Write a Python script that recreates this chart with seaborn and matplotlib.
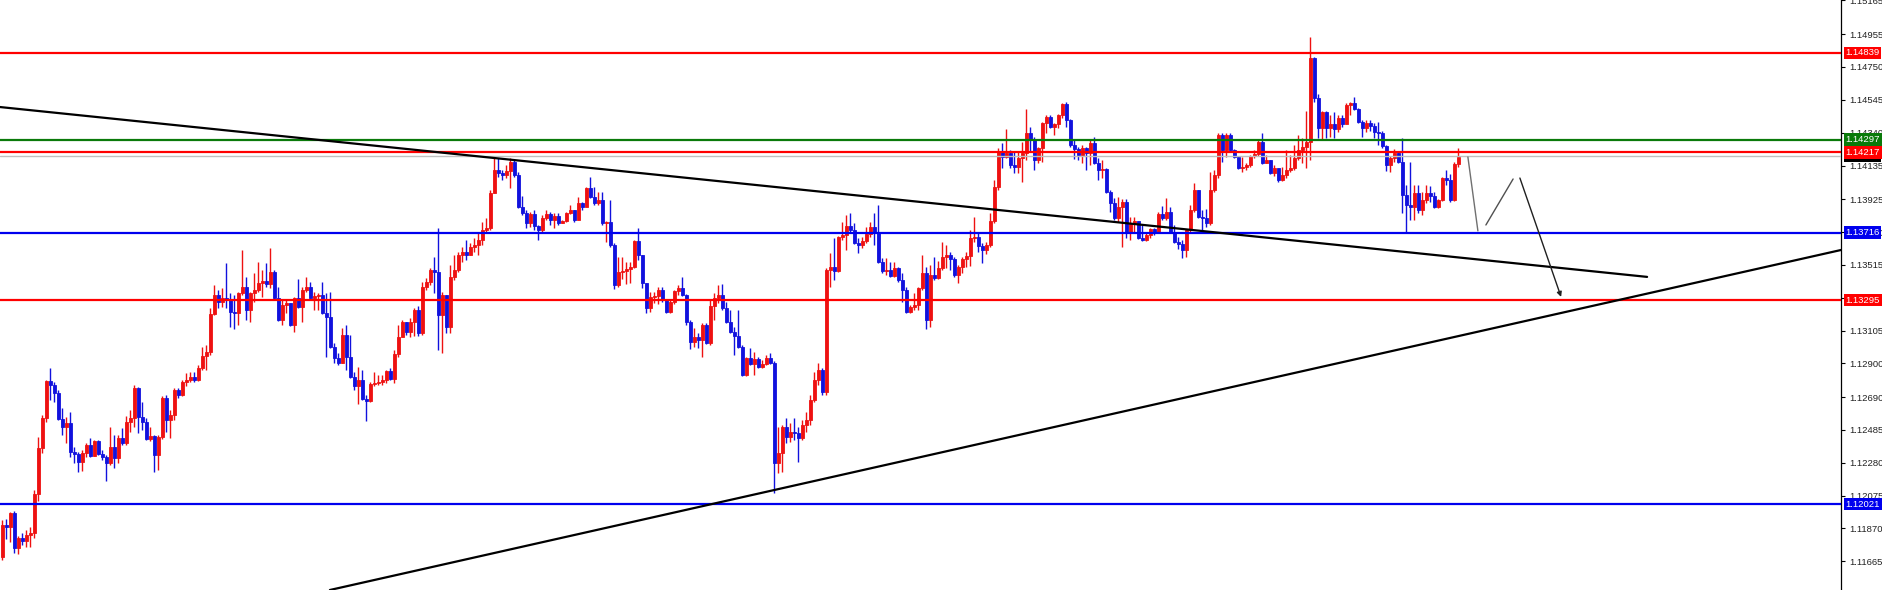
import numpy as np
import pandas as pd
import seaborn as sns
import matplotlib.pyplot as plt


### data ---------------------------------------------------------------------
# EURUSD-style candles (one bar every ~4 px)

first_open = 1.11692

close_px = [
    1.11892, 1.11879, 1.11967, 1.11748, 1.11811, 1.11792, 1.11830, 1.11842, 1.12085, 1.12372,
    1.12560, 1.12791, 1.12766, 1.12715, 1.12554, 1.12503, 1.12528, 1.12348, 1.12335, 1.12286,
    1.12341, 1.12391, 1.12323, 1.12416, 1.12335, 1.12316, 1.12279, 1.12378, 1.12310, 1.12435,
    1.12403, 1.12535, 1.12560, 1.12747, 1.12566, 1.12535, 1.12429, 1.12448, 1.12329, 1.12441,
    1.12684, 1.12547, 1.12579, 1.12734, 1.12703, 1.12785, 1.12797, 1.12815, 1.12797, 1.12872,
    1.12947, 1.12972, 1.13209, 1.13327, 1.13284, 1.13308, 1.13296, 1.13222, 1.13215, 1.13339,
    1.13377, 1.13234, 1.13339, 1.13358, 1.13402, 1.13415, 1.13396, 1.13471, 1.13308, 1.13171,
    1.13265, 1.13277, 1.13140, 1.13308, 1.13252, 1.13358, 1.13377, 1.13308, 1.13321, 1.13327,
    1.13215, 1.13190, 1.13002, 1.12934, 1.12903, 1.13078, 1.12940, 1.12815, 1.12760, 1.12797,
    1.12678, 1.12666, 1.12772, 1.12778, 1.12785, 1.12797, 1.12853, 1.12803, 1.12959, 1.13065,
    1.13159, 1.13097, 1.13159, 1.13234, 1.13090, 1.13377, 1.13409, 1.13483, 1.13471, 1.13203,
    1.13327, 1.13127, 1.13439, 1.13483, 1.13577, 1.13596, 1.13577, 1.13626, 1.13639, 1.13670,
    1.13733, 1.13745, 1.13963, 1.14107, 1.14088, 1.14076, 1.14101, 1.14157, 1.14076, 1.13876,
    1.13839, 1.13776, 1.13833, 1.13758, 1.13733, 1.13808, 1.13833, 1.13795, 1.13820, 1.13776,
    1.13789, 1.13839, 1.13858, 1.13795, 1.13901, 1.13876, 1.13995, 1.13938, 1.13901, 1.13920,
    1.13776, 1.13783, 1.13639, 1.13390, 1.13471, 1.13477, 1.13490, 1.13502, 1.13664, 1.13577,
    1.13402, 1.13246, 1.13314, 1.13321, 1.13358, 1.13296, 1.13222, 1.13284, 1.13352, 1.13371,
    1.13327, 1.13159, 1.13034, 1.13065, 1.13046, 1.13140, 1.13027, 1.13259, 1.13308, 1.13327,
    1.13246, 1.13159, 1.13097, 1.13071, 1.13002, 1.12828, 1.12934, 1.12897, 1.12928, 1.12878,
    1.12897, 1.12934, 1.12903, 1.12279, 1.12341, 1.12503, 1.12441, 1.12473, 1.12466, 1.12435,
    1.12516, 1.12547, 1.12672, 1.12797, 1.12859, 1.12722, 1.13483, 1.13502, 1.13477, 1.13689,
    1.13702, 1.13758, 1.13733, 1.13651, 1.13639, 1.13664, 1.13708, 1.13751, 1.13714, 1.13534,
    1.13477, 1.13483, 1.13446, 1.13496, 1.13421, 1.13358, 1.13222, 1.13252, 1.13265, 1.13371,
    1.13464, 1.13171, 1.13452, 1.13433, 1.13496, 1.13564, 1.13577, 1.13552, 1.13452, 1.13502,
    1.13552, 1.13571, 1.13683, 1.13689, 1.13633, 1.13608, 1.13639, 1.13789, 1.14001, 1.14219,
    1.14188, 1.14213, 1.14139, 1.14126, 1.14182, 1.14213, 1.14338, 1.14294, 1.14170, 1.14244,
    1.14400, 1.14438, 1.14375, 1.14394, 1.14450, 1.14519, 1.14419, 1.14263, 1.14238, 1.14201,
    1.14244, 1.14213, 1.14275, 1.14151, 1.14107, 1.14113, 1.13970, 1.13901, 1.13808, 1.13876,
    1.13908, 1.13720, 1.13776, 1.13789, 1.13683, 1.13670, 1.13702, 1.13739, 1.13714, 1.13833,
    1.13808, 1.13846, 1.13720, 1.13658, 1.13645, 1.13608, 1.13733, 1.13858, 1.13982, 1.13814,
    1.13808, 1.13776, 1.13982, 1.14076, 1.14326, 1.14232, 1.14326, 1.14232, 1.14188, 1.14120,
    1.14126, 1.14139, 1.14195, 1.14207, 1.14282, 1.14151, 1.14170, 1.14088, 1.14120, 1.14045,
    1.14076, 1.14107, 1.14120, 1.14182, 1.14232, 1.14250, 1.14282, 1.14806, 1.14556, 1.14369,
    1.14469, 1.14369, 1.14394, 1.14363, 1.14432, 1.14394, 1.14513, 1.14526, 1.14488, 1.14407,
    1.14369, 1.14400, 1.14382, 1.14344, 1.14338, 1.14257, 1.14139, 1.14182, 1.14213, 1.14157,
    1.13951, 1.13889, 1.13876, 1.13963, 1.13858, 1.13920, 1.13963, 1.13945, 1.13876, 1.13920,
    1.14057, 1.14045, 1.13920, 1.14145, 1.14188,
]

high_px = [
    1.11923, 1.11930, 1.11974, 1.11980, 1.11824, 1.11842, 1.11861, 1.11879, 1.12110, 1.12441,
    1.12579, 1.12797, 1.12872, 1.12785, 1.12734, 1.12622, 1.12566, 1.12598, 1.12378, 1.12348,
    1.12360, 1.12403, 1.12435, 1.12422, 1.12422, 1.12360, 1.12329, 1.12503, 1.12454, 1.12454,
    1.12497, 1.12573, 1.12610, 1.12766, 1.12753, 1.12660, 1.12560, 1.12503, 1.12454, 1.12454,
    1.12697, 1.12703, 1.12610, 1.12747, 1.12747, 1.12797, 1.12840, 1.12847, 1.12847, 1.12891,
    1.13002, 1.13015, 1.13246, 1.13390, 1.13358, 1.13371, 1.13527, 1.13339, 1.13327, 1.13346,
    1.13608, 1.13439, 1.13346, 1.13464, 1.13534, 1.13483, 1.13527, 1.13620, 1.13483, 1.13377,
    1.13296, 1.13296, 1.13277, 1.13314, 1.13427, 1.13377, 1.13439, 1.13409, 1.13346, 1.13339,
    1.13409, 1.13339, 1.13346, 1.13027, 1.12965, 1.13121, 1.13140, 1.13078, 1.12847, 1.12878,
    1.12859, 1.12703, 1.12785, 1.12847, 1.12828, 1.12828, 1.12859, 1.12872, 1.12984, 1.13140,
    1.13171, 1.13159, 1.13184, 1.13246, 1.13259, 1.13409, 1.13433, 1.13496, 1.13564, 1.13745,
    1.13346, 1.13327, 1.13515, 1.13577, 1.13596, 1.13626, 1.13670, 1.13651, 1.13683, 1.13721,
    1.13783, 1.13808, 1.13982, 1.14182, 1.14182, 1.14107, 1.14139, 1.14182, 1.14170, 1.14094,
    1.13945, 1.13858, 1.13846, 1.13858, 1.13764, 1.13827, 1.13858, 1.13846, 1.13839, 1.13839,
    1.13795, 1.13846, 1.13889, 1.13858, 1.13938, 1.13908, 1.14001, 1.14063, 1.14001, 1.13970,
    1.13970, 1.13789, 1.13920, 1.13651, 1.13564, 1.13564, 1.13534, 1.13534, 1.13670, 1.13745,
    1.13577, 1.13402, 1.13346, 1.13346, 1.13377, 1.13377, 1.13296, 1.13296, 1.13358, 1.13390,
    1.13439, 1.13333, 1.13171, 1.13121, 1.13090, 1.13152, 1.13152, 1.13296, 1.13339, 1.13390,
    1.13396, 1.13284, 1.13234, 1.13127, 1.13234, 1.13015, 1.12940, 1.12996, 1.12972, 1.12940,
    1.12922, 1.12953, 1.12965, 1.12916, 1.12503, 1.12516, 1.12560, 1.12528, 1.12560, 1.12503,
    1.12547, 1.12598, 1.12703, 1.12847, 1.12903, 1.12872, 1.13496, 1.13589, 1.13683, 1.13695,
    1.13783, 1.13827, 1.13839, 1.13776, 1.13683, 1.13689, 1.13751, 1.13783, 1.13839, 1.13889,
    1.13558, 1.13558, 1.13534, 1.13534, 1.13502, 1.13464, 1.13377, 1.13265, 1.13339, 1.13377,
    1.13577, 1.13502, 1.13515, 1.13564, 1.13540, 1.13658, 1.13639, 1.13596, 1.13564, 1.13515,
    1.13564, 1.13596, 1.13733, 1.13814, 1.13720, 1.13651, 1.13658, 1.13839, 1.14045, 1.14244,
    1.14275, 1.14363, 1.14232, 1.14219, 1.14219, 1.14282, 1.14488, 1.14375, 1.14313, 1.14250,
    1.14407, 1.14450, 1.14450, 1.14400, 1.14457, 1.14526, 1.14532, 1.14425, 1.14294, 1.14250,
    1.14263, 1.14250, 1.14294, 1.14313, 1.14182, 1.14170, 1.14120, 1.13982, 1.13932, 1.13938,
    1.13926, 1.13926, 1.13814, 1.13814, 1.13776, 1.13764, 1.13714, 1.13745, 1.13745, 1.13846,
    1.13883, 1.13932, 1.13876, 1.13764, 1.13689, 1.13670, 1.13739, 1.13889, 1.14026, 1.13982,
    1.13858, 1.13864, 1.14094, 1.14107, 1.14338, 1.14338, 1.14338, 1.14338, 1.14238, 1.14195,
    1.14188, 1.14151, 1.14201, 1.14232, 1.14294, 1.14338, 1.14201, 1.14170, 1.14139, 1.14107,
    1.14126, 1.14232, 1.14201, 1.14263, 1.14326, 1.14306, 1.14475, 1.14937, 1.14812, 1.14581,
    1.14475, 1.14475, 1.14450, 1.14469, 1.14450, 1.14450, 1.14526, 1.14532, 1.14563, 1.14494,
    1.14419, 1.14419, 1.14419, 1.14400, 1.14407, 1.14350, 1.14263, 1.14195, 1.14238, 1.14219,
    1.14306, 1.14013, 1.14157, 1.14013, 1.14013, 1.13970, 1.14013, 1.14007, 1.13970, 1.13926,
    1.14063, 1.14107, 1.14082, 1.14157, 1.14244,
]

low_px = [
    1.11674, 1.11805, 1.11786, 1.11717, 1.11711, 1.11767, 1.11754, 1.11754, 1.11811, 1.12042,
    1.12341, 1.12535, 1.12672, 1.12660, 1.12547, 1.12454, 1.12403, 1.12316, 1.12279, 1.12223,
    1.12229, 1.12316, 1.12316, 1.12323, 1.12329, 1.12298, 1.12167, 1.12267, 1.12248, 1.12279,
    1.12391, 1.12391, 1.12473, 1.12503, 1.12466, 1.12485, 1.12422, 1.12416, 1.12223, 1.12235,
    1.12429, 1.12473, 1.12435, 1.12547, 1.12684, 1.12697, 1.12760, 1.12785, 1.12785, 1.12791,
    1.12859, 1.12859, 1.12953, 1.13203, 1.13246, 1.13252, 1.13246, 1.13127, 1.13115, 1.13140,
    1.13327, 1.13171, 1.13159, 1.13284, 1.13346, 1.13314, 1.13377, 1.13371, 1.13296, 1.13165,
    1.13140, 1.13215, 1.13134, 1.13097, 1.13246, 1.13159, 1.13346, 1.13296, 1.13234, 1.13234,
    1.13209, 1.12940, 1.12996, 1.12903, 1.12891, 1.12903, 1.12859, 1.12809, 1.12734, 1.12647,
    1.12672, 1.12541, 1.12660, 1.12760, 1.12766, 1.12766, 1.12778, 1.12797, 1.12778, 1.12940,
    1.13065, 1.13078, 1.13065, 1.13071, 1.13071, 1.13078, 1.13358, 1.13390, 1.13339, 1.12984,
    1.12965, 1.13090, 1.13090, 1.13421, 1.13471, 1.13534, 1.13546, 1.13577, 1.13596, 1.13577,
    1.13639, 1.13714, 1.13733, 1.13963, 1.14063, 1.14045, 1.14057, 1.13995, 1.14063, 1.13870,
    1.13827, 1.13745, 1.13751, 1.13733, 1.13670, 1.13720, 1.13795, 1.13764, 1.13745, 1.13764,
    1.13776, 1.13783, 1.13833, 1.13783, 1.13827, 1.13858, 1.13883, 1.13932, 1.13889, 1.13889,
    1.13764, 1.13658, 1.13626, 1.13365, 1.13377, 1.13427, 1.13396, 1.13402, 1.13496, 1.13546,
    1.13371, 1.13215, 1.13222, 1.13277, 1.13271, 1.13284, 1.13215, 1.13215, 1.13271, 1.13327,
    1.13321, 1.13140, 1.12990, 1.13002, 1.12996, 1.12940, 1.13021, 1.13015, 1.13171, 1.13277,
    1.13234, 1.13152, 1.13090, 1.12953, 1.12996, 1.12822, 1.12822, 1.12891, 1.12828, 1.12872,
    1.12872, 1.12891, 1.12897, 1.12091, 1.12216, 1.12223, 1.12403, 1.12410, 1.12422, 1.12286,
    1.12422, 1.12473, 1.12516, 1.12660, 1.12766, 1.12703, 1.12703, 1.13377, 1.13421, 1.13471,
    1.13670, 1.13608, 1.13720, 1.13645, 1.13589, 1.13620, 1.13651, 1.13689, 1.13639, 1.13527,
    1.13464, 1.13452, 1.13439, 1.13439, 1.13409, 1.13284, 1.13215, 1.13215, 1.13234, 1.13234,
    1.13358, 1.13115, 1.13127, 1.13421, 1.13427, 1.13483, 1.13496, 1.13483, 1.13439, 1.13402,
    1.13464, 1.13502, 1.13508, 1.13658, 1.13596, 1.13527, 1.13583, 1.13626, 1.13776, 1.13982,
    1.14120, 1.14182, 1.14120, 1.14088, 1.14088, 1.14032, 1.14170, 1.14219, 1.14107, 1.14151,
    1.14157, 1.14338, 1.14369, 1.14326, 1.14369, 1.14432, 1.14375, 1.14250, 1.14176, 1.14170,
    1.14151, 1.14107, 1.14139, 1.14145, 1.14045, 1.14057, 1.13963, 1.13846, 1.13795, 1.13783,
    1.13626, 1.13683, 1.13670, 1.13714, 1.13677, 1.13664, 1.13664, 1.13683, 1.13702, 1.13720,
    1.13795, 1.13795, 1.13714, 1.13651, 1.13614, 1.13558, 1.13564, 1.13720, 1.13846, 1.13808,
    1.13733, 1.13751, 1.13764, 1.13970, 1.14057, 1.14157, 1.14188, 1.14219, 1.14182, 1.14113,
    1.14094, 1.14107, 1.14126, 1.14182, 1.14195, 1.14145, 1.14151, 1.14082, 1.14070, 1.14032,
    1.14038, 1.14057, 1.14094, 1.14107, 1.14170, 1.14151, 1.14120, 1.14170, 1.14532, 1.14306,
    1.14300, 1.14306, 1.14313, 1.14306, 1.14344, 1.14375, 1.14400, 1.14450, 1.14482, 1.14400,
    1.14313, 1.14344, 1.14350, 1.14306, 1.14263, 1.14244, 1.14101, 1.14094, 1.14157, 1.14151,
    1.13839, 1.13714, 1.13795, 1.13795, 1.13839, 1.13827, 1.13901, 1.13908, 1.13870, 1.13870,
    1.13914, 1.14013, 1.13908, 1.13914, 1.14126,
]

# horizontal levels (price, colour)
level_prices = [1.14839, 1.14297, 1.14217, 1.13716, 1.13295, 1.12021]
level_colors = ['#ff0000', '#0a7a0a', '#ff0000', '#0000ee', '#ff0000', '#0000ee']
bid_price = 1.14193

# right axis ticks
tick_prices = [1.11665, 1.11870, 1.12075, 1.12280, 1.12485, 1.12690, 1.12900, 1.13105,
               1.13310, 1.13515, 1.13720, 1.13925, 1.14135, 1.14340, 1.14545, 1.14750,
               1.14955, 1.15165]

# trend lines (bar index, price)
down_x = [-0.575, 411.2]
down_y = [1.14500, 1.13440]
up_x = [81.9, 459.7]
up_y = [1.11486, 1.13608]

# projected path drawn after the last bar
path_x = [[366.4, 368.9], [370.9, 377.7], [379.4, 389.7]]
path_y = [[1.14188, 1.13727], [1.13764, 1.14051], [1.14057, 1.13315]]


### build frame --------------------------------------------------------------

df = pd.DataFrame({'close': close_px, 'high': high_px, 'low': low_px})
df['open'] = [first_open] + close_px[:-1]
df['bar'] = np.arange(len(df))
df['up'] = df['close'] >= df['open']

col_up = '#ee1111'
col_dn = '#1111dd'
colors = np.where(df['up'], col_up, col_dn)


### plot ---------------------------------------------------------------------

sns.set_style("white")
plt.rcParams['font.family'] = ['Liberation Sans', 'DejaVu Sans']

fig = plt.figure(figsize=(18.83, 5.90), dpi=100)
ax = fig.add_axes([0, 0, 1841 / 1883, 1])

# candles
ax.vlines(df['bar'], df['low'], df['high'], colors=colors, linewidth=1.0, zorder=2)
body_lo = df[['open', 'close']].min(axis=1)
body_h = (df['close'] - df['open']).abs()
ax.bar(df['bar'], body_h, bottom=body_lo, width=0.68, color=colors,
       edgecolor=colors, linewidth=0.6, zorder=2)

# levels
ax.axhline(bid_price, color='#c0c0c0', lw=1.0, zorder=3)
for p, c in zip(level_prices, level_colors):
    ax.axhline(p, color=c, lw=1.6, zorder=4)

# trend lines
trend = pd.DataFrame({'x': down_x + up_x, 'y': down_y + up_y,
                      'line': ['down', 'down', 'up', 'up']})
sns.lineplot(data=trend, x='x', y='y', units='line', estimator=None, sort=False,
             color='black', lw=1.6, ax=ax, zorder=4)

# projected path with arrow head
path_cols = ['#707070', '#505050']
for xs, ys, c in zip(path_x[:-1], path_y[:-1], path_cols):
    ax.plot(xs, ys, color=c, lw=1.0, zorder=4)
ax.annotate('', xy=(path_x[-1][1], path_y[-1][1]), xytext=(path_x[-1][0], path_y[-1][0]),
            arrowprops=dict(arrowstyle='-|>', color='#202020', lw=1.0,
                            mutation_scale=7, shrinkA=0, shrinkB=0), zorder=4)

# axes look
ax.set_xlim(-0.575, 459.675)
ax.set_ylim(1.11486, 1.15168)
ax.set_xticks([])
ax.yaxis.tick_right()
ax.set_yticks(tick_prices)
ax.set_yticklabels([f'{t:.5f}' for t in tick_prices])
ax.tick_params(axis='y', direction='out', length=3, width=0.8, pad=3,
               labelsize=6.8, labelcolor='#222222', color='black')
for s in ['top', 'bottom', 'left']:
    ax.spines[s].set_visible(False)
ax.spines['right'].set_linewidth(0.9)
ax.spines['right'].set_color('black')

# price tags on the scale
tags = [(bid_price, '#000000')] + list(zip(level_prices, level_colors))
order = [0, 4, 5, 6, 1, 2, 3]
for k in order:
    p, c = tags[k]
    ax.annotate(f'{p:.5f}', xy=(1, p), xycoords=ax.get_yaxis_transform(),
                xytext=(3.2, 0), textcoords='offset points', ha='left', va='center',
                fontsize=6.8, color='white', annotation_clip=False, zorder=6 + k,
                bbox=dict(boxstyle='square,pad=0.18', fc=c, ec='none'))

fig.savefig('out.png', dpi=100)
